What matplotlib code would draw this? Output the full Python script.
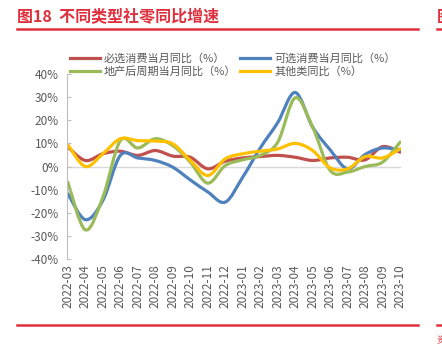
import matplotlib
matplotlib.use("Agg")
import matplotlib.pyplot as plt
from matplotlib.path import Path
from matplotlib.patches import PathPatch
from matplotlib.lines import Line2D
import numpy as np

plt.rcParams['font.family'] = ['Noto Sans CJK SC', 'DejaVu Sans']

months = ['2022-03', '2022-04', '2022-05', '2022-06', '2022-07', '2022-08', '2022-09',
          '2022-10', '2022-11', '2022-12', '2023-01', '2023-02', '2023-03', '2023-04',
          '2023-05', '2023-06', '2023-07', '2023-08', '2023-09', '2023-10']

# 当月同比, %
bixuan = [8.4, 2.6, 5.5, 6.6, 4.8, 6.9, 4.5, 4.0, -1.0, 2.3, 3.7, 4.3, 4.8, 4.0,
          2.6, 3.7, 4.0, 2.9, 8.6, 6.2]
kexuan = [-11.8, -23.0, -14.7, 4.8, 3.7, 2.6, -0.3, -5.8, -11.0, -15.4, -4.6, 8.0,
          19.0, 32.0, 17.0, 7.2, -1.0, 5.2, 8.0, 7.0]
dichan = [-6.8, -27.4, -13.3, 11.2, 8.0, 12.0, 9.0, 1.9, -7.2, 0.4, 2.9, 4.8, 10.5,
          29.7, 17.0, -1.7, -2.4, 0.0, 1.9, 10.5]
qita = [9.4, 0.0, 5.5, 12.0, 11.2, 11.0, 9.8, 2.6, -3.9, 3.3, 5.5, 6.6, 7.6, 10.0,
        6.9, -0.6, -1.0, 4.3, 3.7, 7.6]

names = ['必选消费当月同比（%）', '可选消费当月同比（%）',
         '地产后周期当月同比（%）', '其他类同比（%）']
colors = ['#C0504D', '#4F81BD', '#9BBB59', '#FFC000']
series = [bixuan, kexuan, dichan, qita]

grey = '#595959'
red = '#E02F3C'


def smooth_path(x, y, k=1 / 6):
    # excel-like smoothed line: cubic bezier through every point
    x = np.asarray(x, float)
    y = np.asarray(y, float)
    n = len(x)
    verts = [(x[0], y[0])]
    codes = [Path.MOVETO]
    for i in range(n - 1):
        p0 = i - 1 if i > 0 else i
        p3 = i + 2 if i + 2 < n else i + 1
        c1 = (x[i] + (x[i + 1] - x[p0]) * k, y[i] + (y[i + 1] - y[p0]) * k)
        c2 = (x[i + 1] - (x[p3] - x[i]) * k, y[i + 1] - (y[p3] - y[i]) * k)
        verts += [c1, c2, (x[i + 1], y[i + 1])]
        codes += [Path.CURVE4] * 3
    return Path(verts, codes)


fig = plt.figure(figsize=(4.42, 3.52), dpi=100)
ax = fig.add_axes([67 / 442, 1 - 259 / 352, (401 - 67) / 442, (259 - 74) / 352])

xs = np.arange(len(months))
for vals, c in zip(series, colors):
    ax.add_patch(PathPatch(smooth_path(xs, vals), fill=False, edgecolor=c,
                           lw=2.3, capstyle='round', joinstyle='round'))

ax.axhline(0, color='#D9D9D9', lw=1, zorder=0)
ax.set_xlim(-0.05, len(months) - 0.95)
ax.set_ylim(-40, 40)
ax.set_yticks(range(-40, 41, 10))
ax.set_yticklabels([f'{v}%' for v in range(-40, 41, 10)])
ax.set_xticks(xs)
ax.set_xticklabels(months, rotation=90)
ax.tick_params(axis='y', direction='in', length=3, color='#BFBFBF', labelsize=8.5,
               labelcolor=grey, pad=6)
ax.tick_params(axis='x', length=0, labelsize=8.5, labelcolor=grey, pad=4)
for s in ['top', 'right', 'bottom']:
    ax.spines[s].set_visible(False)
ax.spines['left'].set_color('#BFBFBF')

# legend fills column-wise: reorder so rows read 必选/可选, 地产/其他
order = [0, 2, 1, 3]
handles = [Line2D([], [], color=colors[i], lw=2.3) for i in order]
fig.legend(handles, [names[i] for i in order], loc='upper left',
           bbox_to_anchor=(64 / 442, 1 - 48 / 352),
           ncol=2, frameon=False, fontsize=8, labelcolor=grey, handlelength=2.7,
           handletextpad=0.35, columnspacing=0.4, labelspacing=0.2, borderpad=0)

# header / footer
fig.text(17 / 442, 1 - 17 / 352, '图18  不同类型社零同比增速', color=red, fontsize=11.5,
         fontweight='bold', va='center', ha='left')
fig.add_artist(Line2D([17 / 442, 418 / 442], [1 - 29 / 352] * 2, color=red, lw=1.8))
fig.add_artist(Line2D([17 / 442, 418 / 442], [1 - 325 / 352] * 2, color=red, lw=1.8))
fig.add_artist(Line2D([437 / 442, 1], [1 - 29 / 352] * 2, color=red, lw=1.8))
fig.add_artist(Line2D([437 / 442, 1], [1 - 325 / 352] * 2, color=red, lw=1.8))
fig.text(437 / 442, 1 - 17 / 352, '图', color=red, fontsize=11.5, fontweight='bold',
         va='center', ha='left')
fig.text(437 / 442, 1 - 340 / 352, '资', color=red, fontsize=7, va='center', ha='left')

fig.savefig('out.png', dpi=100)
